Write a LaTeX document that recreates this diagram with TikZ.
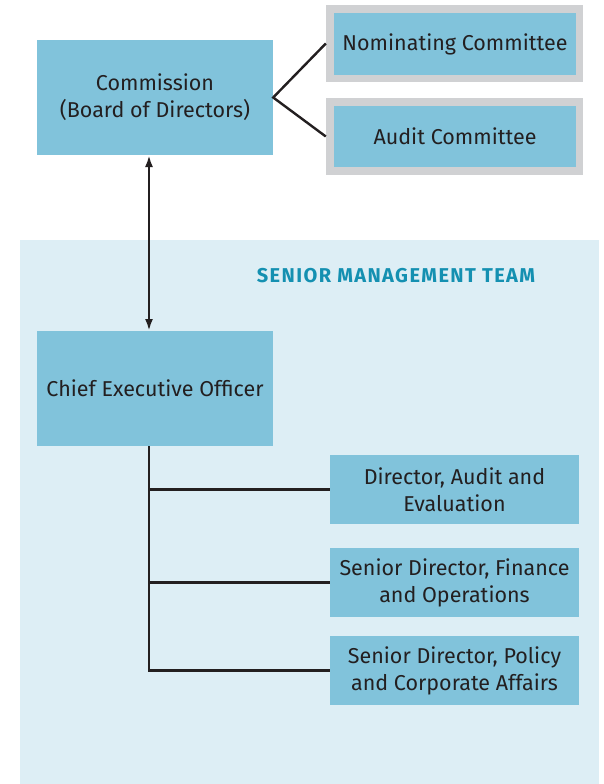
\documentclass[tikz,border=0pt]{standalone}
\usepackage{fontspec}
\setmainfont{Fira Sans}
\usetikzlibrary{arrows.meta}
\definecolor{boxblue}{HTML}{81C3DB}
\definecolor{panel}{HTML}{DDEEF5}
\definecolor{gframe}{HTML}{D0D1D3}
\definecolor{teamtext}{HTML}{1490B1}
\definecolor{ink}{HTML}{231F20}
\tikzset{
  x=1pt,y=-1pt,
  box/.style={fill=boxblue,draw=none,inner sep=0pt,align=center,font=\fontsize{21.5}{27}\selectfont,text=ink},
  frame/.style={fill=gframe,draw=none,inner sep=0pt},
  conn/.style={draw=ink,line width=2.4pt},
}
\begin{document}
\begin{tikzpicture}
\useasboundingbox (0,0) rectangle (603,784);
\fill[panel] (20,240) rectangle (599,784);
% committees frames
\node[frame,minimum width=257pt,minimum height=77pt] (nomf) at (454.5,43.5) {};
\node[frame,minimum width=257pt,minimum height=77pt] (audf) at (454.5,136.5) {};
\node[box,minimum width=242pt,minimum height=62pt] (nom) at (455,44) {Nominating Committee};
\node[box,minimum width=242pt,minimum height=61pt] (aud) at (455,136.5) {Audit Committee};
\node[box,minimum width=236pt,minimum height=115pt] (com) at (155,97.5) {Commission\\(Board of Directors)};
\node[box,minimum width=236pt,minimum height=115pt] (ceo) at (155,388.5) {Chief Executive Officer};
\node[text=teamtext,font=\fontsize{20}{22}\selectfont\bfseries\addfontfeatures{LetterSpace=7}] (smt) at (396,276) {SENIOR MANAGEMENT TEAM};
\node[box,minimum width=249pt,minimum height=69pt] (d1) at (454.5,489.5) {Director, Audit and\\Evaluation};
\node[box,minimum width=249pt,minimum height=69pt] (d2) at (454.5,582.5) {Senior Director, Finance\\and Operations};
\node[box,minimum width=249pt,minimum height=69pt] (d3) at (454.5,670.5) {Senior Director, Policy\\and Corporate Affairs};
\coordinate (fork) at (com.east);
\draw[conn] (nomf.west) -- (fork) -- (audf.west);
\draw[conn,{Latex[length=12pt,width=8pt]}-{Latex[length=12pt,width=8pt]}] (149,155) -- (149,331);
\draw[conn] (149,446) |- (d1.west);
\draw[conn] (149,446) |- (d2.west);
\draw[conn] (149,446) |- (d3.west);
\end{tikzpicture}
\end{document}
